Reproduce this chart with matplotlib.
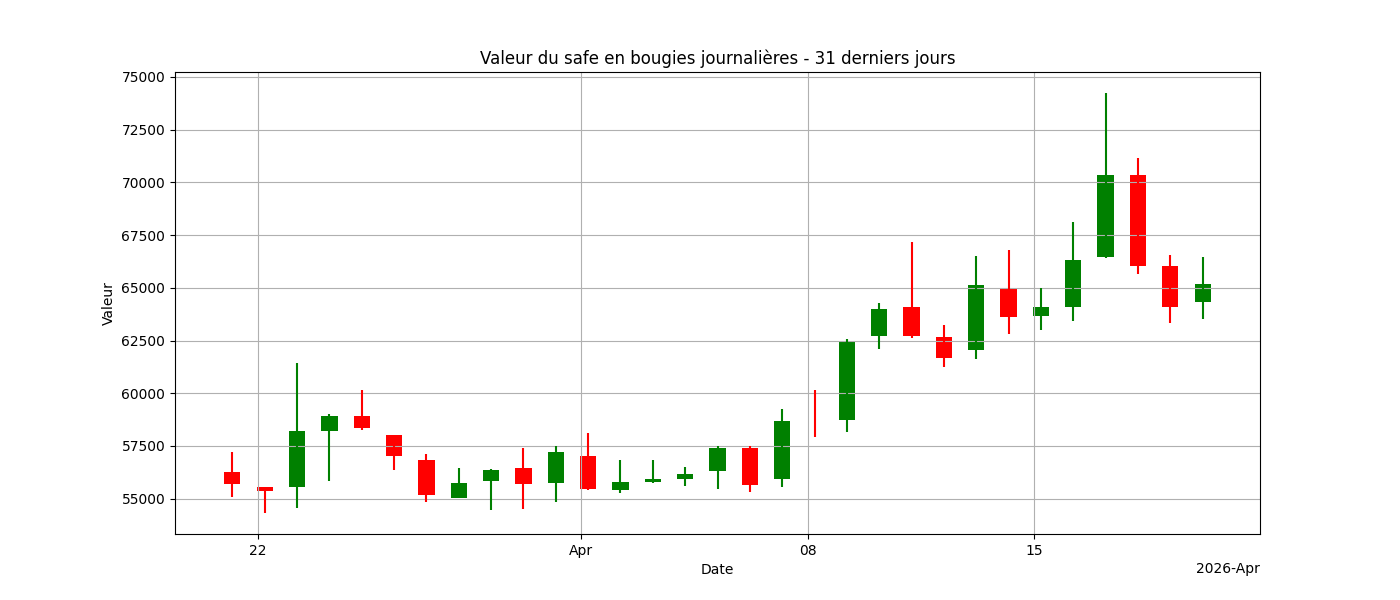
import datetime
import matplotlib
matplotlib.use("Agg")
import matplotlib.pyplot as plt
import matplotlib.dates as mdates

# daily candles, 21 Mar -> 20 Apr 2026
start = datetime.datetime(2026, 3, 21, 5, 0)
dates = [start + datetime.timedelta(days=i) for i in range(31)]

opens = [56250, 55540, 55550, 58210, 58910, 58000, 56820, 55030, 55840, 56440,
         55740, 57010, 55410, 55790, 55930, 56310, 57390, 55930, 59000, 58720,
         62700, 64070, 62650, 62050, 64930, 63660, 64070, 66450, 70340, 66020,
         64330]
closes = [55700, 55360, 58200, 58900, 58350, 57020, 55170, 55730, 56340, 55690,
          57200, 55460, 55770, 55920, 56150, 57390, 55650, 58670, 59000, 62410,
          63980, 62720, 61660, 65120, 63600, 64070, 66300, 70340, 66020, 64070,
          65170]
highs = [57200, 55540, 61430, 59000, 60140, 58000, 57100, 56440, 56390, 57390,
         57480, 58100, 56820, 56820, 56490, 57480, 57480, 59230, 60140, 62550,
         64260, 67160, 63220, 66500, 66780, 65000, 68110, 74240, 71150, 66540,
         66450]
lows = [55080, 54320, 54550, 55840, 58260, 56360, 54840, 55030, 54460, 54510,
        54840, 55410, 55270, 55740, 55600, 55460, 55310, 55550, 57930, 58160,
        62080, 62600, 61240, 61630, 62800, 62980, 63420, 66400, 65640, 63310,
        63500]

fig, ax = plt.subplots(figsize=(14, 6), dpi=100)

for d, o, c, h, l in zip(dates, opens, closes, highs, lows):
    color = 'green' if c > o else 'red'
    ax.vlines(d, l, h, color=color, linewidth=1.5)
    ax.bar(d, c - o, width=0.5, bottom=o, color=color)

ax.xaxis.set_major_locator(mdates.DayLocator(bymonthday=[1, 8, 15, 22]))
ax.xaxis.set_major_formatter(mdates.ConciseDateFormatter(ax.xaxis.get_major_locator()))

ax.set_title('Valeur du safe en bougies journalières - 31 derniers jours')
ax.set_xlabel('Date')
ax.set_ylabel('Valeur')
ax.grid(True)

plt.savefig('out.png')
